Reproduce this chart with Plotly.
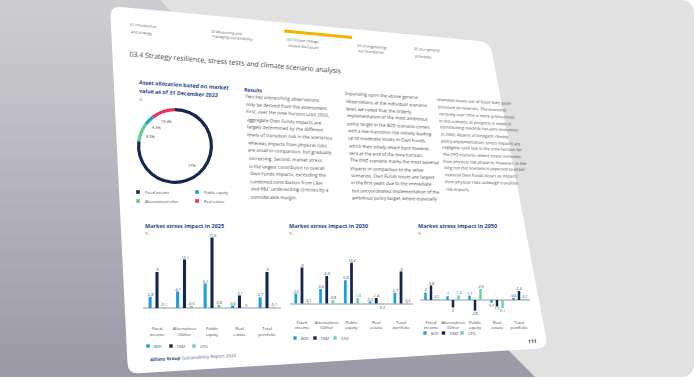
import numpy as np
import plotly.graph_objects as go

W, H = 694, 380

# ---------------- data ----------------
alloc_labels = ["Fixed income", "Alternatives/other", "Public equity", "Real estate"]
alloc_values = [77.0, 8.2, 4.3, 10.4]
alloc_text = ["77%", "8.2%", "4.3%", "10.4%"]

categories = ["Fixed income", "Alternatives /Other", "Public equity", "Real estate", "Total portfolio"]
category_ticktext = ["Fixed<br>income", "Alternatives<br>/Other", "Public<br>equity", "Real<br>estate", "Total<br>portfolio"]
scenarios = ["B2D", "DNZ", "CFO"]

b2d_2025 = [-2.8, -4.1, -6.1, -0.6, -2.7]
dnz_2025 = [-9, -12.1, -17.6, -3.1, -9]
cfo_2025 = [-0.1, -0.5, -0.8, 0, -0.1]

b2d_2030 = [-2.5, -3.6, -5.8, -0.3, -2.7]
dnz_2030 = [-9, -6.9, -10.2, -1.4, -8]
cfo_2030 = [-0.1, -0.8, -1.3, 0.2, -0.2]

b2d_2050 = [-2, -1, -1.1, 0.7, -0.6]
dnz_2050 = [-3.8, 2, 2.8, 1.7, -2.4]
cfo_2050 = [-0.1, -1.2, -2.9, 2.1, -0.1]

chart_titles = ["Market stress impact in 2025", "Market stress impact in 2030", "Market stress impact in 2050"]

col1_lines = [
    "Two key overarching observations",
    "may be derived from the assessment.",
    "First, over the time horizon until 2050,",
    "aggregate Own Funds impacts are",
    "largely determined by the different",
    "levels of transition risk in the scenarios,",
    "whereas impacts from physical risks",
    "are small in comparison, but gradually",
    "increasing. Second, market stress",
    "is the largest contributor to overall",
    "Own Funds impacts, exceeding the",
    "combined contribution from L&H",
    "and P&C underwriting stresses by a",
    "considerable margin.",
]
col2_lines = [
    "Expanding upon the above general",
    "observations at the individual scenario",
    "level, we noted that the orderly",
    "implementation of the most ambitious",
    "policy target in the B2D scenario comes",
    "with a low transition risk initially leading",
    "up to moderate losses in Own Funds,",
    "which then slowly revert back towards",
    "zero at the end of the time horizon.",
    "The DNZ scenario marks the most adverse",
    "impacts in comparison to the other",
    "scenarios. Own Funds losses are largest",
    "in the first years due to the immediate",
    "but uncoordinated implementation of the",
    "ambitious policy target, where especially",
]
col3_lines = [
    "stranded assets out of fossil fuels push",
    "pressure on reserves. The economic",
    "recovery over time is more pronounced",
    "in this scenario as progress is made in",
    "transitioning towards net-zero emissions",
    "in 2050. Absent of stringent climate",
    "policy implementation, stress impacts are",
    "negligible until late in the time horizon for",
    "the CFO scenario, where stress increases",
    "from physical risk phase-in. However, in the",
    "long run this scenario is expected to entail",
    "material Own Funds losses as impacts",
    "from physical risks outweigh transition",
    "risk impacts.",
]

nav_items = [
    ("01 Introduction", "and strategy"),
    ("02 Measuring and", "managing sustainability"),
    ("03 Climate change", "related disclosure"),
    ("04 Strengthening", "our foundation"),
    ("05 Our general", "principles"),
]

# ---------------- styling ----------------
NAVY = "#13284f"
BLUE = "#1f9fd9"
GREEN = "#6dd49a"
RED = "#e8325f"
TITLE_BLUE = "#1d4690"
BODY = "#464646"
FONT = "Open Sans"

alloc_colors = [NAVY, "#5fcf8a", BLUE, RED]
scen_colors = [BLUE, NAVY, GREEN]


def px(x):
    return x / W


def py(y):
    return 1 - y / H


def ang(y):
    # perspective tilt of the page: top tilted down-right, bottom up-right
    return 5.4 - 8.9 * (y - 6) / 368


def rounded_path(pts, r):
    n = len(pts)
    d = ""
    for i in range(n):
        p0 = np.array(pts[i - 1], float)
        p1 = np.array(pts[i], float)
        p2 = np.array(pts[(i + 1) % n], float)
        v1 = (p0 - p1) / np.linalg.norm(p0 - p1)
        v2 = (p2 - p1) / np.linalg.norm(p2 - p1)
        a = p1 + v1 * r
        b = p1 + v2 * r
        d += ("M" if i == 0 else "L") + f"{px(a[0]):.5f},{py(a[1]):.5f} "
        d += f"Q{px(p1[0]):.5f},{py(p1[1]):.5f} {px(b[0]):.5f},{py(b[1]):.5f} "
    return d + "Z"


def poly_path(pts):
    return "M" + " L".join(f"{px(x):.5f},{py(y):.5f}" for x, y in pts) + " Z"


shapes = []
annotations = []

# background
shapes.append(dict(type="path", xref="paper", yref="paper", layer="below",
                   path=rounded_path([(0, 0), (W, 0), (W, 377), (0, 377)], 14),
                   fillcolor="#e1e1e1", line=dict(width=0)))

# shadow gradient behind the page
top_c = np.array([0xcf, 0xcf, 0xd2])
bot_c = np.array([0x9b, 0x99, 0xa6])
nb = 24
for i in range(nb):
    y0 = 377 * i / nb
    y1 = min(377 * (i + 1) / nb + 0.6, 377)
    xr = lambda y: 160 + (535 - 160) * y / 377
    t = (i + 0.5) / nb
    c = (top_c * (1 - t) + bot_c * t).astype(int)
    shapes.append(dict(type="path", xref="paper", yref="paper", layer="below",
                       path=poly_path([(0, y0), (xr(y0), y0), (xr(y1), y1), (0, y1)]),
                       fillcolor=f"rgb({c[0]},{c[1]},{c[2]})", line=dict(width=0)))

# the page (white card)
card = [(110, 6), (490, 42), (548, 348), (128, 374)]
shapes.append(dict(type="path", xref="paper", yref="paper", layer="below",
                   path=rounded_path(card, 11), fillcolor="white", line=dict(width=0)))

# active nav marker
shapes.append(dict(type="line", xref="paper", yref="paper", layer="above",
                   x0=px(284), y0=py(31), x1=px(352), y1=py(37.5),
                   line=dict(color="#f5b400", width=3)))


def add_text(x, y, text, size, color=BODY, bold=False, anchor="left", angle=None):
    if bold:
        text = f"<b>{text}</b>"
    annotations.append(dict(xref="paper", yref="paper", x=px(x), y=py(y), text=text,
                            showarrow=False, xanchor=anchor, yanchor="middle",
                            textangle=ang(y) if angle is None else angle,
                            font=dict(family=FONT, size=size, color=color)))


# nav
nav_pos = [(128, 26), (209, 32), (285, 40), (355, 46), (412, 50)]
for (l1, l2), (x, y) in zip(nav_items, nav_pos):
    add_text(x, y, l1, 3.7, "#5a5a5a")
    add_text(x + 0.4, y + 6, l2, 3.7, "#5a5a5a")

# page title
add_text(127, 63, "03.4 Strategy resilience, stress tests and climate scenario analysis", 7.0, "#3e4752", angle=4.6)

# text columns
def add_column(lines, start, end, size):
    n = len(lines)
    for i, line in enumerate(lines):
        t = i / (n - 1)
        x = start[0] + (end[0] - start[0]) * t
        y = start[1] + (end[1] - start[1]) * t
        add_text(x, y, line, size, BODY)


add_text(242, 90, "Results", 5.0, TITLE_BLUE, bold=True)
add_column(col1_lines, (243, 98), (249, 197), 4.7)
add_column(col2_lines, (343, 95.5), (350, 198), 4.5)
add_column(col3_lines, (435, 102), (444, 189), 4.1)

# donut titles
add_text(137, 85, "Asset allocation based on market", 5.4, TITLE_BLUE, bold=True)
add_text(137, 93, "value as of 31 December 2022", 5.4, TITLE_BLUE, bold=True)
add_text(137, 99.5, "%", 3.9, "#777777")

# donut
cx, cy, R = 175, 146, 38
fig = go.Figure()
fig.add_trace(go.Pie(labels=alloc_labels, values=alloc_values, hole=0.915, sort=False,
                     direction="clockwise", rotation=0, textinfo="none",
                     marker=dict(colors=alloc_colors, line=dict(width=0)),
                     domain=dict(x=[px(cx - R), px(cx + R)], y=[py(cy + R), py(cy - R)]),
                     showlegend=False))
# donut value labels placed at slice mid-angles
cum = np.cumsum([0] + alloc_values)
tot = cum[-1]
for i, txt in enumerate(alloc_text):
    mid = (cum[i] + cum[i + 1]) / 2 / tot * 2 * np.pi
    lx = cx + 26 * np.sin(mid)
    ly = cy - 26 * np.cos(mid)
    add_text(lx, ly, txt, 3.9, "#333333", anchor="center", angle=ang(ly))

# donut legend
leg_pos = {"Fixed income": (138, 192), "Public equity": (197, 192),
           "Alternatives/other": (138, 201), "Real estate": (197, 201)}
for lab, col in zip(alloc_labels, alloc_colors):
    x, y = leg_pos[lab]
    shapes.append(dict(type="rect", xref="paper", yref="paper", layer="above",
                       x0=px(x - 1.8), x1=px(x + 1.8), y0=py(y + 1.8), y1=py(y - 1.8),
                       fillcolor=col, line=dict(width=0)))
    add_text(x + 5, y, lab, 4.0, "#4a4a4a", angle=0)

# ---------------- bar charts ----------------
charts = [
    dict(b2d=b2d_2025, dnz=dnz_2025, cfo=cfo_2025, x0=143.25, x1=280.75,
         base=308, scale=4.0, yr=[1.5, -19.0], ticklen=10,
         title=(143, 226), legend=(148, 346, 23)),
    dict(b2d=b2d_2030, dnz=dnz_2030, cfo=cfo_2030, x0=289.6, x1=413.4,
         base=303.5, scale=4.0, yr=[2.0, -12.0], ticklen=6,
         title=(287, 226), legend=(295, 338, 20)),
    dict(b2d=b2d_2050, dnz=dnz_2050, cfo=cfo_2050, x0=420, x1=530,
         base=300, scale=3.8, yr=[3.6, -5.0], ticklen=4,
         title=(416, 226), legend=(425, 333, 18.5)),
]

for k, ch in enumerate(charts):
    xa, ya = f"x{k + 2}", f"y{k + 2}"
    series = [ch["b2d"], ch["dnz"], ch["cfo"]]
    for s, vals, col in zip(scenarios, series, scen_colors):
        fig.add_trace(go.Bar(x=categories, y=vals, name=s, marker=dict(color=col, line=dict(width=0)),
                             text=[f"{v:g}" for v in vals], textposition="outside",
                             textangle=0, constraintext="none", cliponaxis=False,
                             textfont=dict(family=FONT, size=3.7, color="#3c3c3c"),
                             xaxis=xa, yaxis=ya, showlegend=False))
    bottom = ch["base"] + ch["yr"][0] * ch["scale"]
    top = ch["base"] + ch["yr"][1] * ch["scale"]
    fig.update_layout(**{
        f"xaxis{k + 2}": dict(domain=[px(ch["x0"]), px(ch["x1"])], anchor=ya,
                              type="category", range=[-0.5, 4.5], fixedrange=True,
                              tickmode="array", tickvals=categories, ticktext=category_ticktext,
                              ticks="outside", ticklen=ch["ticklen"],
                              tickcolor="rgba(0,0,0,0)",
                              tickfont=dict(family=FONT, size=4.3, color="#4a4a4a"),
                              showgrid=False, showline=False, zeroline=False),
        f"yaxis{k + 2}": dict(domain=[py(bottom), py(top)], anchor=xa, range=ch["yr"],
                              fixedrange=True, showgrid=False, showticklabels=False,
                              ticks="", showline=False, zeroline=True,
                              zerolinecolor="#c9ccd4", zerolinewidth=2),
    })
    tx, tyy = ch["title"]
    add_text(tx, tyy, chart_titles[k], 5.5, TITLE_BLUE, bold=True, angle=0)
    add_text(tx, tyy + 7, "%", 3.9, "#777777", angle=0)
    lx, ly, step = ch["legend"]
    for j, (s, col) in enumerate(zip(scenarios, scen_colors)):
        x = lx + j * step
        shapes.append(dict(type="rect", xref="paper", yref="paper", layer="above",
                           x0=px(x - 1.7), x1=px(x + 1.7), y0=py(ly + 1.7), y1=py(ly - 1.7),
                           fillcolor=col, line=dict(width=0)))
        add_text(x + 4, ly, s, 4.0, "#4a4a4a", angle=0)

# footer
add_text(148, 357, "<b>Allianz Group</b> <span style='color:#4a6a9a'>Sustainability Report 2022</span>",
         4.5, "#1d3f7c", angle=-2.8)
add_text(532, 341, "111", 5.0, "#1d3f7c", bold=True, anchor="center", angle=-2.2)

fig.update_layout(
    width=W, height=H, margin=dict(l=0, r=0, t=0, b=0),
    paper_bgcolor="white", plot_bgcolor="rgba(0,0,0,0)",
    barmode="group", bargap=0.25, bargroupgap=0.55,
    shapes=shapes, annotations=annotations, showlegend=False,
    font=dict(family=FONT),
)

fig.write_html("out.html", config={"displayModeBar": False},
               post_script="document.body.style.margin='0';")
